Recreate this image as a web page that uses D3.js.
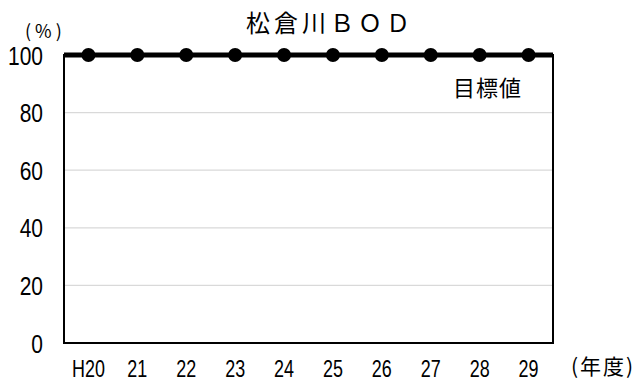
<!DOCTYPE html>
<html><head><meta charset="utf-8">
<script src="https://cdn.jsdelivr.net/npm/d3@7"></script>
<style>body{margin:0;background:#fff}svg{display:block}</style>
</head><body>
<svg id="c" width="639" height="385"></svg>
<script>
const categories = ["H20","21","22","23","24","25","26","27","28","29"];
const values = [100,100,100,100,100,100,100,100,100,100];
const targetValue = 100;
const yTicks = [0,20,40,60,80,100];
const title = "松倉川ＢＯＤ";
const yUnit = "(%)";
const xUnit = "(年度)";
const targetLabel = "目標値";

const svg = d3.select("#c");
const m = {l:64, r:553, t:55, b:343};
const x = d3.scaleBand().domain(categories).range([m.l, m.r]);
const y = d3.scaleLinear().domain([0,100]).range([m.b, m.t]);
const numFont = "'Liberation Sans',Arial,sans-serif";
const jpFont = "'Noto Sans CJK JP',sans-serif";

// grid
svg.append("g").selectAll("line").data(yTicks.filter(d=>d>0 && d<100)).join("line")
  .attr("x1", m.l).attr("x2", m.r).attr("y1", d=>y(d)).attr("y2", d=>y(d))
  .attr("stroke", "#d9d9d9").attr("stroke-width", 1.2);

// frame
svg.append("rect").attr("x", m.l).attr("y", m.t).attr("width", m.r-m.l).attr("height", m.b-m.t)
  .attr("fill","none").attr("stroke","#000").attr("stroke-width",2);

// y axis labels
const yAxis = d3.axisLeft(y).tickValues(yTicks).tickSize(0).tickPadding(0);
const ga = svg.append("g").attr("transform", `translate(43,0)`).call(yAxis);
ga.select(".domain").remove();
ga.selectAll("text").attr("font-family", numFont).attr("font-size", 25).attr("fill","#000")
  .attr("dy","0.36em").attr("transform","scale(0.84,1)");

// x axis labels
const xAxis = d3.axisBottom(x).tickSize(0).tickPadding(0);
const gx = svg.append("g").attr("transform", `translate(0,${m.b+17})`).call(xAxis);
gx.select(".domain").remove();
gx.selectAll("text").attr("font-family", numFont).attr("font-size", 23).attr("fill","#000")
  .attr("dy","0.72em").attr("transform","scale(0.78,1)");

// target line
svg.append("line").attr("x1", m.l).attr("x2", m.r).attr("y1", y(targetValue)).attr("y2", y(targetValue))
  .attr("stroke","#000").attr("stroke-width",5);

// series
const line = d3.line().x((d,i)=>x(categories[i])+x.bandwidth()/2).y(d=>y(d));
svg.append("path").datum(values).attr("d", line).attr("fill","none").attr("stroke","#000").attr("stroke-width",3);
svg.append("g").selectAll("circle").data(values).join("circle")
  .attr("cx",(d,i)=>x(categories[i])+x.bandwidth()/2).attr("cy", d=>y(d)).attr("r",7).attr("fill","#000");

// texts
svg.append("text").attr("x", 246).attr("y", 32).attr("letter-spacing", 4)
  .attr("font-family", jpFont).attr("font-size", 24).text(title);
svg.append("text").attr("x", 25).attr("y", 38).attr("letter-spacing", 4)
  .attr("font-family", jpFont).attr("font-size", 18).text(yUnit);
svg.append("text").attr("x", 571).attr("y", 374).attr("letter-spacing", 2)
  .attr("font-family", jpFont).attr("font-size", 21).text(xUnit);
svg.append("text").attr("x", 453).attr("y", 96).attr("letter-spacing", 1)
  .attr("font-family", jpFont).attr("font-size", 22).text(targetLabel);
</script>
</body></html>
